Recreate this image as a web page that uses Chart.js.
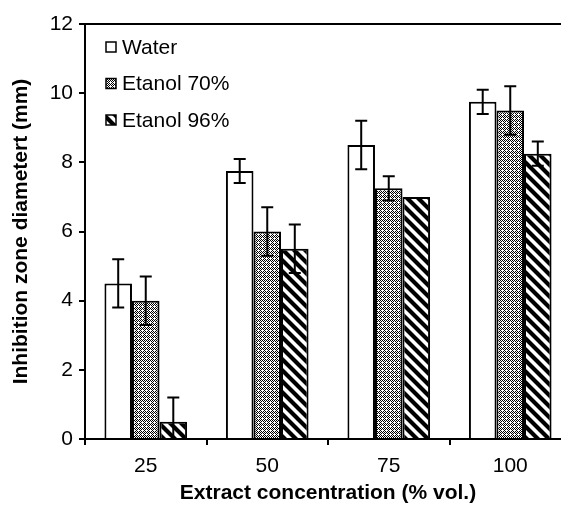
<!DOCTYPE html>
<html>
<head>
<meta charset="utf-8">
<script src="https://cdn.jsdelivr.net/npm/chart.js@4.4.0/dist/chart.umd.min.js"></script>
<style>
  html, body { margin: 0; padding: 0; background: #fff; overflow: hidden; }
  #wrap { width: 572px; height: 507px; }
</style>
</head>
<body>
<div id="wrap"><canvas id="zoneChart"></canvas></div>
<script>
// Data
const categories = ['25', '50', '75', '100'];
const seriesNames = ['Water', 'Etanol 70%', 'Etanol 96%'];
const waterValues = [4.5, 7.75, 8.5, 9.75];
const etanol70Values = [4.0, 6.0, 7.25, 9.5];
const etanol96Values = [0.5, 5.5, 7.0, 8.25];
const waterErrors = [0.7, 0.35, 0.7, 0.35];
const etanol70Errors = [0.7, 0.7, 0.35, 0.7];
const etanol96Errors = [0.7, 0.7, 0, 0.35];
const yTicks = [0, 2, 4, 6, 8, 10, 12];

// fill patterns
function dotPattern() {
    const c = document.createElement('canvas');
    c.width = 4; c.height = 4;
    const g = c.getContext('2d');
    g.fillStyle = '#fff';
    g.fillRect(0, 0, 4, 4);
    g.fillStyle = '#000';
    for (let x = 0; x < 4; x++) {
        for (let y = 0; y < 4; y++) {
            if ((x + y) % 2 === 0 && !(x === 2 && y === 2)) g.fillRect(x, y, 1, 1);
        }
    }
    return g.createPattern(c, 'repeat');
}

function stripePattern() {
    const s = 11;
    const c = document.createElement('canvas');
    c.width = s; c.height = s;
    const g = c.getContext('2d');
    g.fillStyle = '#fff';
    g.fillRect(0, 0, s, s);
    g.strokeStyle = '#000';
    g.lineWidth = 4.2;
    g.beginPath();
    g.moveTo(-2, -2); g.lineTo(s + 2, s + 2);
    g.moveTo(-2 - s, -2); g.lineTo(2, s + 2);
    g.moveTo(s - 2, -2); g.lineTo(2 * s + 2, s + 2);
    g.stroke();
    return g.createPattern(c, 'repeat');
}

const fills = ['#ffffff', dotPattern(), stripePattern()];
const errors = [waterErrors, etanol70Errors, etanol96Errors];
const fontFamily = '"Liberation Sans", Arial, sans-serif';

// error bars drawn with the y scale
const errorBars = {
    id: 'errorBars',
    afterDatasetsDraw(chart) {
        const ctx = chart.ctx;
        const y = chart.scales.y;
        const area = chart.chartArea;
        ctx.save();
        ctx.beginPath();
        ctx.rect(area.left, area.top - 20, area.right - area.left, area.bottom - area.top + 20);
        ctx.clip();
        ctx.strokeStyle = '#000';
        ctx.lineWidth = 2;
        chart.data.datasets.forEach((ds, i) => {
            const meta = chart.getDatasetMeta(i);
            meta.data.forEach((bar, j) => {
                const e = errors[i][j];
                if (!e) return;
                const v = ds.data[j];
                const top = y.getPixelForValue(v + e);
                const bot = Math.min(y.getPixelForValue(v - e), area.bottom);
                ctx.beginPath();
                ctx.moveTo(bar.x, top); ctx.lineTo(bar.x, bot);
                ctx.moveTo(bar.x - 6, top); ctx.lineTo(bar.x + 6, top);
                if (v - e >= 0) { ctx.moveTo(bar.x - 6, bot); ctx.lineTo(bar.x + 6, bot); }
                ctx.stroke();
            });
        });
        ctx.restore();
    }
};

// top frame line and legend inside the plot
const frameAndLegend = {
    id: 'frameAndLegend',
    afterDraw(chart) {
        const ctx = chart.ctx;
        const a = chart.chartArea;
        ctx.save();
        ctx.strokeStyle = '#000';
        ctx.lineWidth = 2;
        ctx.beginPath();
        ctx.moveTo(a.left - 6, a.top);
        ctx.lineTo(a.right, a.top);
        ctx.stroke();
        ctx.font = '21px ' + fontFamily;
        ctx.textBaseline = 'middle';
        chart.data.datasets.forEach((ds, i) => {
            const yy = a.top + 23 + i * 36.5;
            const xx = a.left + 21;
            ctx.fillStyle = ds.backgroundColor;
            ctx.fillRect(xx, yy - 5, 10, 10);
            ctx.lineWidth = 1.5;
            ctx.strokeRect(xx, yy - 5, 10, 10);
            ctx.fillStyle = '#000';
            ctx.fillText(ds.label, xx + 16, yy + 1);
        });
        ctx.restore();
    }
};

const data = {
    labels: categories,
    datasets: [
        { label: seriesNames[0], data: waterValues, backgroundColor: fills[0] },
        { label: seriesNames[1], data: etanol70Values, backgroundColor: fills[1] },
        { label: seriesNames[2], data: etanol96Values, backgroundColor: fills[2] }
    ].map(d => Object.assign(d, {
        borderColor: '#000',
        borderWidth: 2,
        categoryPercentage: 0.68,
        barPercentage: 1.0
    }))
};

const tickFont = { family: fontFamily, size: 21 };
const titleFont = { family: fontFamily, size: 21, weight: 'bold' };

const config = {
    type: 'bar',
    data: data,
    plugins: [errorBars, frameAndLegend],
    options: {
        responsive: true,
        maintainAspectRatio: false,
        animation: false,
        layout: { padding: { top: 24, right: 1, left: 0, bottom: 0 } },
        plugins: {
            legend: { display: false },
            tooltip: { enabled: false }
        },
        scales: {
            x: {
                afterFit(axis) { axis.height = 68; },
                grid: { offset: true, drawOnChartArea: false, tickLength: 6, color: '#000', lineWidth: 2 },
                border: { color: '#000', width: 2 },
                ticks: { color: '#000', font: tickFont, padding: 9 },
                title: { display: true, text: 'Extract concentration (% vol.)', color: '#000', font: titleFont, padding: { top: 1.5, bottom: 1.5 } }
            },
            y: {
                min: 0,
                max: 12,
                afterFit(axis) { axis.width = 85; },
                afterBuildTicks(axis) { axis.ticks = yTicks.map(v => ({ value: v })); },
                grid: { drawOnChartArea: false, tickLength: 6, color: '#000', lineWidth: 2 },
                border: { color: '#000', width: 2 },
                ticks: { color: '#000', font: tickFont, padding: 6 },
                title: { display: true, text: 'Inhibition zone diametert (mm)', color: '#000', font: titleFont, padding: { top: 9, bottom: 9 } }
            }
        }
    }
};

const ctx = document.getElementById('zoneChart').getContext('2d');
const zoneChart = new Chart(ctx, config);
</script>
</body>
</html>
